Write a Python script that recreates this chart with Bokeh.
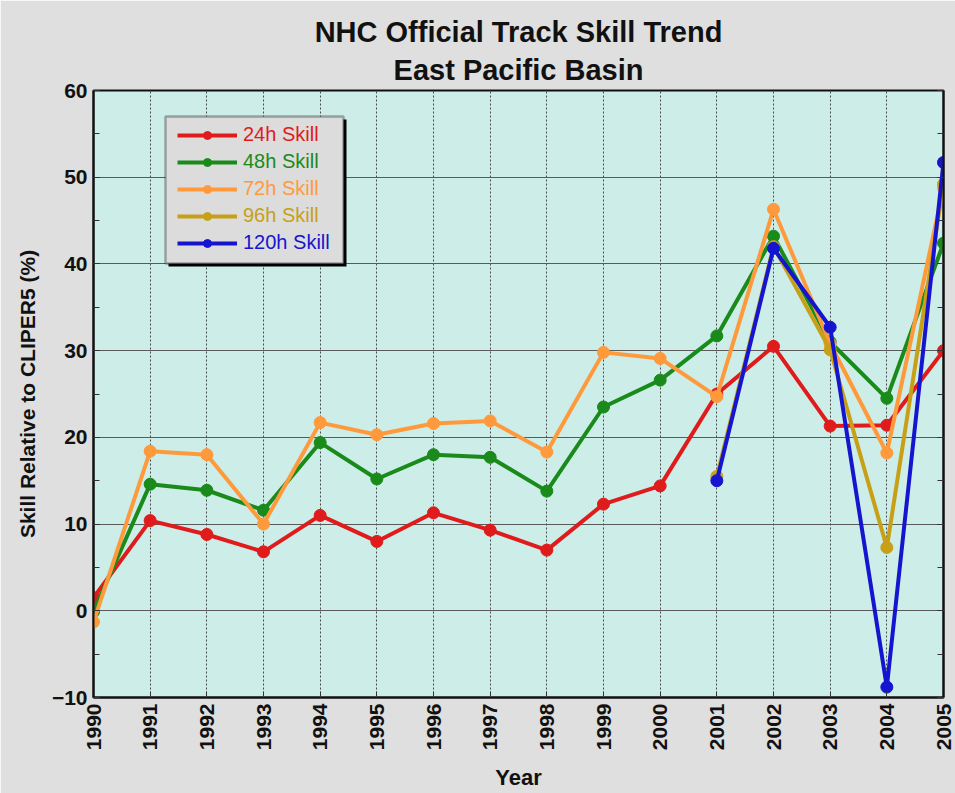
import math
from bokeh.plotting import figure
from bokeh.models import (Legend, LegendItem, BoxAnnotation, Range1d,
                          FixedTicker, LinearAxis, Title)
from bokeh.embed import file_html
from bokeh.resources import INLINE

# ---------------- data ----------------
years = list(range(1990, 2006))
years_5day = [2001, 2002, 2003, 2004, 2005]

skill_24h = [1.5, 10.4, 8.8, 6.8, 11.0, 8.0, 11.3, 9.3, 7.0, 12.3, 14.4,
             25.0, 30.5, 21.3, 21.4, 30.0]
skill_48h = [-0.1, 14.6, 13.9, 11.6, 19.4, 15.2, 18.0, 17.7, 13.8, 23.5, 26.6,
             31.7, 43.2, 31.0, 24.5, 42.4]
skill_72h = [-1.3, 18.4, 18.0, 10.0, 21.7, 20.3, 21.6, 21.9, 18.3, 29.8, 29.1,
             24.7, 46.3, 30.8, 18.2, 48.8]
skill_96h = [15.5, 42.0, 30.1, 7.3, 49.2]
skill_120h = [15.0, 41.8, 32.7, -8.8, 51.7]

labels = ["24h Skill", "48h Skill", "72h Skill", "96h Skill", "120h Skill"]
colors = ["#e01b1b", "#1a8a1a", "#ff9a3c", "#c8a018", "#1515d0"]
xs = [years, years, years, years_5day, years_5day]
ys = [skill_24h, skill_48h, skill_72h, skill_96h, skill_120h]

y_ticks = list(range(-10, 61, 10))
y_minor = list(range(-10, 61, 5))

title_main = "NHC Official Track Skill Trend"
title_sub = "East Pacific Basin"

FONT = "Liberation Sans"
BG = "#dedfde"

p = figure(width=955, height=793, output_backend="svg", toolbar_location=None,
           x_range=Range1d(1990, 2005), y_range=Range1d(-10, 60),
           min_border_left=93, min_border_right=12, min_border_top=90,
           min_border_bottom=94,
           background_fill_color="#ccede8", border_fill_color=BG)

# p.title is drawn outermost; extra "above" titles sit nearer the frame
p.title.text = title_main
p.title.align = "center"
p.title.offset = 10
p.title.standoff = 0
p.title.text_font = FONT
p.title.text_font_size = "29px"
p.title.text_font_style = "bold"
p.title.text_color = "#111111"
sub = Title(text=title_sub, align="center", offset=2, standoff=9,
            text_font=FONT, text_font_size="29px",
            text_font_style="bold", text_color="#111111")
p.add_layout(sub, "above")

p.outline_line_color = "#111111"
p.outline_line_width = 2

# axes
xa = p.xaxis[0]
xa.ticker = FixedTicker(ticks=years)
xa.major_label_orientation = math.pi / 2
ya = p.yaxis[0]
ya.ticker = FixedTicker(ticks=y_ticks, minor_ticks=y_minor)
for ax in (xa, ya):
    ax.major_label_text_font = FONT
    ax.major_label_text_font_style = "bold"
    ax.major_label_text_font_size = "21px"
    ax.major_label_text_color = "#111111"
    ax.axis_label_text_font = FONT
    ax.axis_label_text_font_style = "bold"
    ax.axis_label_text_font_size = "21px"
    ax.axis_label_text_color = "#111111"
    ax.axis_line_color = "#111111"
    ax.axis_line_width = 2
    ax.major_tick_in = 6
    ax.major_tick_out = 0
    ax.minor_tick_in = 6
    ax.minor_tick_out = 0
    ax.major_tick_line_color = "#333333"
    ax.minor_tick_line_color = "#333333"
    ax.major_label_standoff = 6
xa.minor_tick_line_color = None
xa.axis_label = "Year"
xa.axis_label_text_font_size = "22px"
xa.axis_label_standoff = 12
ya.axis_label = "Skill Relative to CLIPER5 (%)"
ya.axis_label_standoff = 10

ra = LinearAxis(ticker=FixedTicker(ticks=y_ticks, minor_ticks=y_minor),
                major_label_overrides={t: "" for t in y_ticks},
                major_label_text_color=None, major_label_standoff=0,
                axis_line_color="#111111", axis_line_width=2,
                major_tick_in=6, major_tick_out=0, minor_tick_in=6,
                minor_tick_out=0, major_tick_line_color="#333333",
                minor_tick_line_color="#333333")
p.add_layout(ra, "right")

# grids
p.xgrid.grid_line_color = "#4a4a4a"
p.xgrid.grid_line_dash = "2 2"
p.xgrid.grid_line_width = 1
p.ygrid.grid_line_color = "#5a5a5a"
p.ygrid.grid_line_width = 1

# series
items = []
for lab, c, x, y in zip(labels, colors, xs, ys):
    rl = p.line(x, y, line_color=c, line_width=4)
    rs = p.scatter(x, y, size=12, fill_color=c, line_color=c)
    items.append((lab, c, rl, rs))

# legend box + shadow (screen units, relative to frame)
shadow = BoxAnnotation(left=75, right=253, bottom=431, top=578,
                       left_units="screen", right_units="screen",
                       bottom_units="screen", top_units="screen",
                       fill_color="black", fill_alpha=1.0, line_color=None)
box = BoxAnnotation(left=72, right=250, bottom=434, top=581,
                    left_units="screen", right_units="screen",
                    bottom_units="screen", top_units="screen",
                    fill_color="#dcdcdc", fill_alpha=1.0,
                    line_color="black", line_width=2.5)
p.add_layout(shadow)
p.add_layout(box)

row_y = [551, 524, 497, 470, 443]
for (lab, c, rl, rs), yy in zip(items, row_y):
    lg = Legend(items=[LegendItem(label=lab, renderers=[rl, rs])],
                location=(84, yy), padding=0, margin=0, spacing=0,
                border_line_color=None, background_fill_alpha=0,
                glyph_width=60, glyph_height=20, label_height=20,
                label_standoff=6, label_text_font=FONT,
                label_text_font_size="20px", label_text_color=c)
    p.add_layout(lg)

open("out.html", "w").write(file_html(p, INLINE))
